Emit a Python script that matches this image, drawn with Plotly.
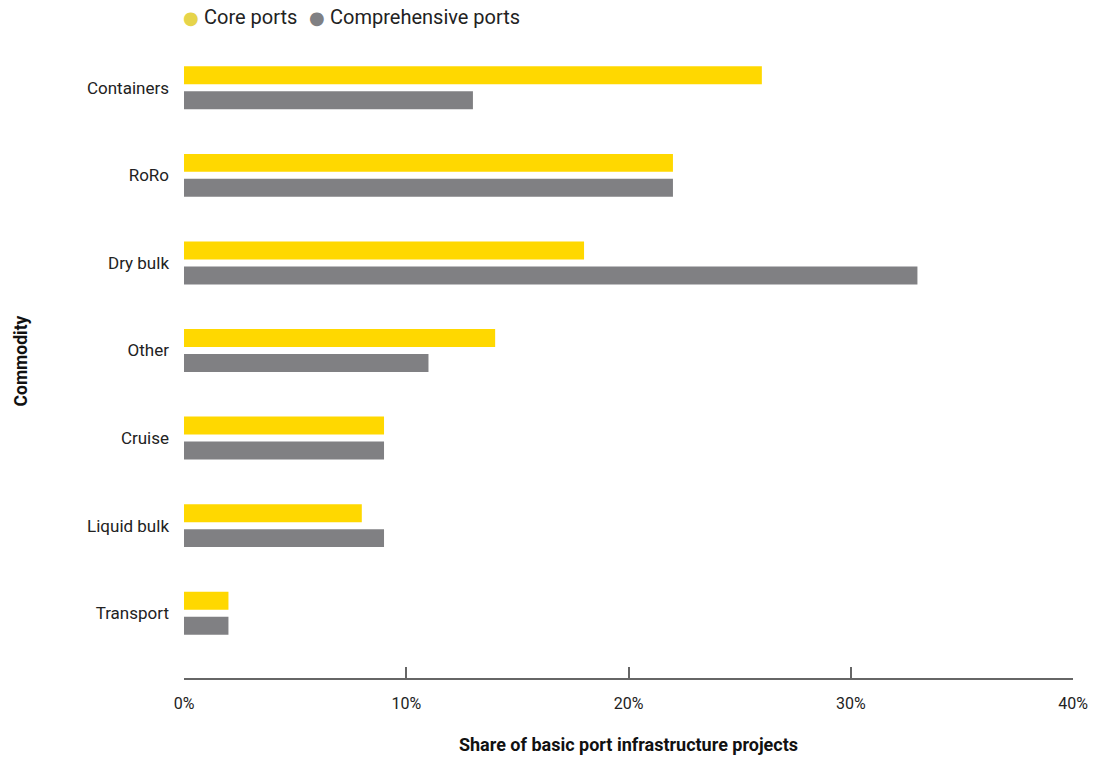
import plotly.graph_objects as go

# Commodity shares of basic port infrastructure projects (%)
commodities = ["Containers", "RoRo", "Dry bulk", "Other", "Cruise", "Liquid bulk", "Transport"]
core_ports = [26, 22, 18, 14, 9, 8, 2]
comprehensive_ports = [13, 22, 33, 11, 9, 9, 2]
x_ticks = [0, 10, 20, 30, 40]
x_tick_labels = ["0%", "10%", "20%", "30%", "40%"]

YELLOW = "#FFD800"
GREY = "#808083"
LEGEND_YELLOW = "#E6D44A"
FONT = "Roboto, Lato, sans-serif"

fig = go.Figure()

fig.add_trace(go.Bar(
    y=commodities, x=core_ports, orientation="h",
    marker=dict(color=YELLOW, line=dict(width=0)),
    width=0.205, offset=-0.245, showlegend=False, name="Core ports",
))
fig.add_trace(go.Bar(
    y=commodities, x=comprehensive_ports, orientation="h",
    marker=dict(color=GREY, line=dict(width=0)),
    width=0.205, offset=0.04, showlegend=False, name="Comprehensive ports",
))

# legend row: coloured dot followed by series name
legend_items = [("Core ports", 181, 202, LEGEND_YELLOW), ("Comprehensive ports", 307, 328, GREY)]
for name, dot_x, text_x, col in legend_items:
    fig.add_annotation(
        xref="paper", yref="paper",
        x=(dot_x - 184) / 889, y=1 + (44 - 17) / 634,
        xanchor="left", yanchor="middle", showarrow=False,
        text="●", font=dict(size=18, color=col, family="DejaVu Sans"),
    )
    fig.add_annotation(
        xref="paper", yref="paper",
        x=(text_x - 184) / 889, y=1 + (44 - 17) / 634,
        xanchor="left", yanchor="middle", showarrow=False,
        text=name, font=dict(size=20, color="#222222", family=FONT),
    )

fig.update_layout(
    width=1104, height=758,
    margin=dict(l=184, r=31, t=44, b=80, autoexpand=False),
    paper_bgcolor="white", plot_bgcolor="white",
    barmode="overlay",
    showlegend=False,
    font=dict(family=FONT, size=17, color="#222222"),
    xaxis=dict(
        range=[0, 40], tickvals=x_ticks, ticktext=x_tick_labels,
        showgrid=False, zeroline=False,
        showline=True, linecolor="#666666", linewidth=1.5,
        ticks="inside", ticklen=11, tickcolor="#666666", tickwidth=1.5,
        ticklabelstandoff=10,
        tickfont=dict(size=16, color="#222222"),
        title=dict(text="<b>Share of basic port infrastructure projects</b>",
                   font=dict(size=18, color="#111111"), standoff=26),
        fixedrange=True,
    ),
    yaxis=dict(
        categoryorder="array", categoryarray=commodities,
        range=[6.74, -0.5],
        showgrid=False, zeroline=False, showline=False, ticks="",
        ticklabelstandoff=14,
        tickfont=dict(size=17, color="#222222"),
        title=dict(text="<b>Commodity</b>",
                   font=dict(size=17.5, color="#111111"), standoff=54),
        fixedrange=True,
    ),
)

fig.write_html("out.html")
